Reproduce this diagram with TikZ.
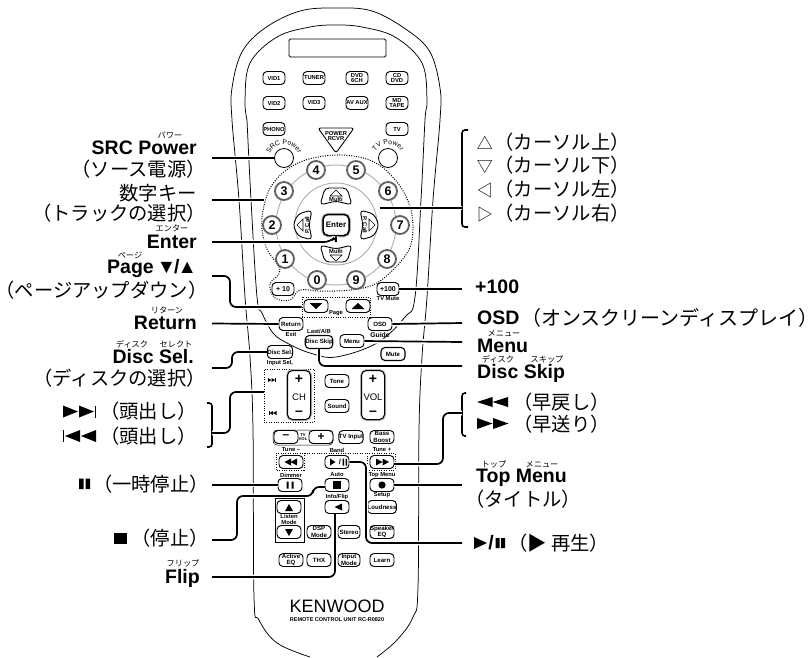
\documentclass[tikz,border=0pt]{standalone}
\usepackage{fontspec}
\setmainfont{Liberation Sans}
\newfontfamily\jp{Noto Sans CJK JP}
\newfontfamily\jphalt[RawFeature=+halt]{Noto Sans CJK JP}
\usetikzlibrary{decorations.text}

% triangle with its base at (x,y), tip w further along x, height h
\newcommand{\triX}[4]{\fill (#1,#2) -- ++(0,{#4}) -- ++({#3},{-(#4)/2}) -- cycle;}
% triangle with its base centred at (x,y), width w, tip h further along y
\newcommand{\triY}[4]{\fill ({#1-(#3)/2},#2) -- ++({#3},0) -- ++({-(#3)/2},{#4}) -- cycle;}
% small outline triangle in a full kana width
\newcommand{\curs}[1]{\makebox[19.3pt]{\fontsize{16}{16}\selectfont #1}}

\begin{document}
\begin{tikzpicture}[
    x=1pt, y=-1pt,
    body/.style={line width=0.75pt, line join=round},
    ring/.style={circle, draw=gray!60, line width=1pt, inner sep=0pt},
    dots/.style={line width=1pt, dash pattern=on 1pt off 1.4pt},
    btn/.style={
        rectangle, draw=black, fill=white, rounded corners=4pt, line width=0.95pt,
        minimum width=22pt, minimum height=13pt, inner sep=0pt, align=center,
        font=\fontsize{5.8}{5.9}\selectfont\bfseries},
    bigbtn/.style={btn, minimum width=24pt, font=\fontsize{6.1}{6.3}\selectfont\bfseries},
    numkey/.style={
        circle, draw=gray!75!black, fill=white, line width=1.8pt,
        minimum size=18pt, inner sep=0pt, font=\fontsize{12.5}{12.5}\selectfont\bfseries},
    powkey/.style={circle, draw=black, fill=white, line width=0.8pt, minimum size=19pt, inner sep=0pt},
    rocker/.style={
        rectangle, draw=black, line width=1pt, rounded corners=5pt, fill=white,
        preaction={draw=gray!60, line width=3pt},
        minimum width=23pt, minimum height=49pt, inner sep=0pt},
    keytext/.style={inner sep=0pt, align=center, font=\fontsize{5.8}{5.9}\selectfont\bfseries},
    heading/.style={inner sep=0pt, font=\fontsize{19.5}{20}\selectfont\bfseries},
    kana/.style={inner sep=0pt, font=\jp\fontsize{19.3}{20}\selectfont},
    ruby/.style={inner sep=0pt, font=\jp\fontsize{8.2}{9}\selectfont},
    leader/.style={
        line width=1.7pt, rounded corners=6pt,
        preaction={draw=white, line width=4.8pt}},
    brace/.style={line width=1.6pt, rounded corners=3pt}
]
\useasboundingbox (0,0) rectangle (810,657);

%% ── Remote body ─────────────────────────────────────────────────
\draw[body] plot[smooth, tension=0.6] coordinates {
    (310,657) (277,643) (259,620) (254,597) (253,430) (250,357) (245,297) (239,200)
    (232,120) (232,88) (242,52) (265,28) (300,11) (336,8) (372,11) (407,30)
    (430,52) (440,88) (440,120) (433,200) (427,297) (422,357) (419,430) (418,587)
    (413,617) (397,640) (377,657)};
\draw[body] plot[smooth, tension=0.6] coordinates {
    (247,120) (245,100) (250,63) (277,37) (310,27) (336,25) (362,27) (395,37)
    (422,63) (427,100) (425,120) (421,200) (415,297) (405,317) (377,343) (336,357)
    (310,353) (287,343) (273,333) (262,313) (257,297) (251,200) (247,120)};
\draw[body, rounded corners=1.5pt] (289,39) rectangle (386,57);

%% ── Source buttons ──────────────────────────────────────────────
\node[btn] (vid1)  at (274,78) {VID1};
\node[btn] (tuner) at (314,78) {TUNER};
\node[btn] (dvd)   at (357,78) {DVD\\6CH};
\node[btn] (cd)    at (397,78) {CD\\DVD};
\node[btn] (vid2)  at (274,103) {VID2};
\node[btn] (vid3)  at (314,103) {VID3};
\node[btn] (avaux) at (357,103) {AV AUX};
\node[btn] (md)    at (397,103) {MD\\TAPE};
\node[btn] (phono) at (274,129) {PHONO};
\node[btn] (tv)    at (397,129) {TV};

%% ── Power keys ──────────────────────────────────────────────────
\draw[line width=0.9pt, rounded corners=2.5pt] (318,128) -- (354,128) -- (336,153) -- cycle;
\node[keytext] (rcvr) at (336,136) {POWER\\RCVR};
\node[powkey] (srcpow) at (284,158) {};
\node[powkey] (tvpow)  at (388,158) {};
\path[decorate, decoration={text along path, text align=center,
    text={|\fontsize{6.8}{7}\selectfont|SRC Power}}]
    (269,158) .. controls (271,140) and (297,140) .. (299,158);
\path[decorate, decoration={text along path, text align=center,
    text={|\fontsize{6.8}{7}\selectfont|TV Power}}]
    (373,158) .. controls (375,140) and (401,140) .. (403,158);

%% ── Number pad ──────────────────────────────────────────────────
\node[ring, minimum size=120pt] (padring) at (336,225) {};
\node[ring, minimum size=82pt]  (curring) at (336,224) {};
\draw[dots] plot[smooth cycle, tension=0.6] coordinates {
    (336,155) (372,161) (397,182) (411,210) (412,240) (402,260) (377,283) (350,290)
    (320,291) (300,290) (290,300) (275,298) (270,284) (280,270) (266,247) (262,218)
    (272,185) (298,163)};
\node[numkey] (n4) at (316,170) {4};
\node[numkey] (n5) at (356,170) {5};
\node[numkey] (n3) at (284,191) {3};
\node[numkey] (n6) at (388,191) {6};
\node[numkey] (n2) at (272,225) {2};
\node[numkey] (n7) at (400,225) {7};
\node[numkey] (n1) at (285,259) {1};
\node[numkey] (n8) at (387,259) {8};
\node[numkey] (n0) at (317,280) {0};
\node[numkey] (n9) at (356,280) {9};
\node[btn, font=\fontsize{7}{7}\selectfont\bfseries] (plus10)  at (283,289) {+ 10};
\node[btn, font=\fontsize{7}{7}\selectfont\bfseries] (plus100) at (388,289) {+100};
\node[keytext] (tvmute)  at (388,299) {TV Mute};

%% ── Cursor keys ─────────────────────────────────────────────────
\draw[body, fill=white, line width=0.9pt, rounded corners=4pt]
    (320,205) -- (325,188) -- (347,188) -- (352,205) -- (336,201) -- cycle;
\draw[body, fill=white, line width=0.9pt, rounded corners=4pt]
    (320,245) -- (336,249) -- (352,245) -- (347,262) -- (325,262) -- cycle;
\draw[body, fill=white, line width=0.9pt, rounded corners=4pt]
    (312,210) -- (298,214) -- (293,225) -- (298,236) -- (312,240) -- (309,225) -- cycle;
\draw[body, fill=white, line width=0.9pt, rounded corners=4pt]
    (360,210) -- (374,214) -- (379,225) -- (374,236) -- (360,240) -- (363,225) -- cycle;
\draw[line width=0.6pt] (330,196) -- (342,196) -- (336,190) -- cycle;
\draw[line width=0.6pt] (330,255) -- (342,255) -- (336,261) -- cycle;
\draw[line width=0.6pt] (303,219) -- (303,231) -- (297,225) -- cycle;
\draw[line width=0.6pt] (369,219) -- (369,231) -- (375,225) -- cycle;
\node[keytext] (multiup) at (336,199) {Multi};
\node[keytext] (multidn) at (336,251) {Multi};
\node[keytext, rotate=90]  (pcallL) at (307,225) {P. Call};
\node[keytext, rotate=-90] (pcallR) at (365,225) {P. Call};
\node[btn, line width=1.5pt, minimum width=26pt, minimum height=21pt, rounded corners=5pt,
    preaction={draw=gray!60, line width=3.5pt},
    font=\fontsize{8}{8}\selectfont\bfseries] (enter) at (336,225) {Enter};

%% ── Page and menu keys ──────────────────────────────────────────
\node[draw, dots, minimum width=68pt, minimum height=20pt, inner sep=0pt] (pagebox) at (336,307) {};
\node[bigbtn] (pagedn) at (316,306) {};
\node[bigbtn] (pageup) at (358,306) {};
\triY{316}{303}{13}{6}
\triY{358}{309}{13}{-6}
\node[keytext, fill=white, inner sep=0.5pt] (pagelab) at (336,313) {Page};
\node[bigbtn] (return) at (291,324) {Return};
\node[keytext]    (exit)   at (291,334) {Exit};
\node[bigbtn] (osd)    at (380,324) {OSD};
\node[keytext, font=\fontsize{6.8}{7}\selectfont\bfseries] (guide) at (380,335) {Guide};
\node[keytext]    (lastab) at (319,331) {Last/A/B};
\node[bigbtn, line width=1.1pt] (discskip) at (319,342) {Disc Skip};
\node[bigbtn] (menu)   at (352,341) {Menu};
\node[bigbtn, line width=1.1pt] (mute) at (393,354) {Mute};
\node[bigbtn] (discsel) at (280,352) {Disc Sel.};
\node[keytext]    (inputsel) at (280,363) {Input Sel,};

%% ── Channel and volume ──────────────────────────────────────────
\node[draw, dots, minimum width=50pt, minimum height=53pt, inner sep=0pt] (chbox) at (289,395.5) {};
\node[rocker] (ch)  at (299,395) {};
\node[rocker] (vol) at (373,395) {};
\node[inner sep=0pt, font=\fontsize{14}{14}\selectfont\bfseries] (chplus)  at (299,379) {+};
\node[inner sep=0pt, font=\fontsize{9.5}{9.5}\selectfont]        (chlab)   at (299,397) {CH};
\node[inner sep=0pt, font=\fontsize{14}{14}\selectfont\bfseries] (chminus) at (299,413) {--};
\node[inner sep=0pt, font=\fontsize{14}{14}\selectfont\bfseries] (volplus)  at (373,379) {+};
\node[inner sep=0pt, font=\fontsize{9.5}{9.5}\selectfont]        (vollab)   at (373,397) {VOL};
\node[inner sep=0pt, font=\fontsize{14}{14}\selectfont\bfseries] (volminus) at (373,413) {--};
\triX{268}{378}{3.5}{4} \triX{271.5}{378}{3.5}{4} \fill (275,378) rectangle (275.7,382);
\fill (268.6,411) rectangle (269.3,415); \triX{273}{411}{-3.5}{4} \triX{276.5}{411}{-3.5}{4}
\node[bigbtn] (tone)  at (337,381) {Tone};
\node[bigbtn] (sound) at (337,406) {Sound};

%% ── Transport rows ──────────────────────────────────────────────
\draw[line width=0.5pt, rounded corners=4pt] (273,430) rectangle (333,445);
\node[bigbtn, font=\fontsize{12}{12}\selectfont\bfseries] (tvminus) at (286,437) {--};
\node[bigbtn, font=\fontsize{12}{12}\selectfont\bfseries] (tvplus)  at (321,437) {+};
\node[keytext, font=\fontsize{4.2}{4.2}\selectfont\bfseries] (tvvol) at (303,437) {TV\\VOL};
\node[bigbtn] (tvinput) at (351,437) {TV Input};
\node[bigbtn] (bass)    at (382,437) {Bass\\Boost};
\draw[dots] (276,470) -- (276,453) -- (395,453) -- (395,470) -- (367,470) -- (367,453)
    (304,453) -- (304,470) -- (276,470);
\node[keytext, fill=white, inner xsep=1pt] (tuneminus) at (291,450) {Tune --};
\node[keytext, fill=white, inner xsep=1pt] (band)      at (337,450) {Band};
\node[keytext, fill=white, inner xsep=1pt] (tuneplus)  at (382,450) {Tune +};
\node[bigbtn] (rew)  at (291,462) {};
\node[bigbtn] (play) at (337,462) {};
\node[bigbtn] (ff)   at (382,462) {};
\triX{291}{458.5}{-6.5}{7} \triX{297}{458.5}{-6.5}{7}
\triX{330}{458.5}{5.5}{7}
\node[keytext, font=\fontsize{7.5}{7.5}\selectfont\bfseries] (playbar) at (340,462) {/};
\fill (342.5,458.5) rectangle (344,465.5) (345.5,458.5) rectangle (347,465.5);
\triX{376}{458.5}{6.5}{7} \triX{382.5}{458.5}{6.5}{7}
\node[keytext] (dimmer)  at (291,475) {Dimmer};
\node[keytext] (auto)    at (337,475) {Auto};
\node[keytext] (topcap)  at (382,475) {Top Menu};
\node[bigbtn] (pause)  at (290,485) {};
\node[bigbtn] (stop)   at (337,485) {};
\node[bigbtn] (topmenu) at (382,485) {};
\fill (286.5,481.5) rectangle (288.5,488.5) (291.5,481.5) rectangle (293.5,488.5);
\fill (333,481) rectangle (341,489);
\fill (382,485) circle [radius=3.6pt];
\node[keytext] (setup)   at (382,495) {Setup};
\node[keytext] (infoflip) at (337,497) {Info/Flip};
\node[bigbtn] (flipkey)  at (337,507) {};
\triX{342}{503.5}{-7.5}{7}
\node[bigbtn] (loudness) at (382,507) {Loudness};
\node[bigbtn] (dsp)     at (319,532) {DSP\\Mode};
\node[bigbtn, minimum width=22pt] (stereo) at (349,532) {Stereo};
\node[bigbtn] (speaker) at (382,532) {Speaker\\EQ};
\node[bigbtn] (active)  at (291,560) {Active\\EQ};
\node[bigbtn] (thx)     at (319,560) {THX};
\node[bigbtn, minimum width=22pt] (inputmode) at (349,560) {Input\\Mode};
\node[bigbtn] (learn)   at (382,560) {Learn};

%% ── Maker ───────────────────────────────────────────────────────
\node[inner sep=0pt, font=\fontsize{18}{18}\selectfont] (maker) at (337,606) {KENWOOD};
\node[inner sep=0pt, font=\fontsize{5.5}{6}\selectfont\bfseries] (model) at (337,620) {REMOTE CONTROL UNIT RC-R0820};

%% ── Left labels ─────────────────────────────────────────────────
\node[ruby] (rsrc) at (170,135) {パワー};
\node[heading, anchor=east] (lsrc) at (197,148) {SRC Power};
\node[kana, anchor=east]  (ksrc) at (206,169) {（ソース電源）};
\node[kana, anchor=east]  (lnum) at (197,193) {数字キー};
\node[kana, anchor=east]  (knum) at (206,213) {（トラックの選択）};
\node[ruby] (rent) at (172,228) {エンター};
\node[heading, anchor=east] (lent) at (197,242) {Enter};
\node[ruby] (rpage) at (130,255) {ページ};
\node[heading, anchor=east] (lpage) at (197,268) {Page\kern3pt▼\kern-2pt/\kern-2pt▲};
\node[kana, anchor=east]  (kpage) at (198,290) {{\jphalt（}ページアップダウン{\jphalt）}};
\node[ruby] (rret) at (167,310) {リターン};
\node[heading, anchor=east] (lret) at (197,323) {Return};
\node[ruby] (rdisc) at (132,344) {ディスク};
\node[ruby] (rsel)  at (176,344) {セレクト};
\node[heading, anchor=east] (ldsel) at (194,357) {Disc Sel.};
\node[kana, anchor=east]  (kdsel) at (206,378) {（ディスクの選択）};
\triX{63}{405.5}{15}{12} \triX{79}{405.5}{15}{12} \fill (95,405.5) rectangle (96,417.5);
\fill (63,430) rectangle (64,442); \triX{80}{430}{-15}{12} \triX{96}{430}{-15}{12}
\node[kana, anchor=east] (lnext) at (197,411) {（頭出し）};
\node[kana, anchor=east] (lprev) at (197,436) {（頭出し）};
\fill (79,478.5) rectangle (83.5,489) (85.7,478.5) rectangle (90,489);
\node[kana, anchor=east] (lpause) at (209,484) {（一時停止）};
\fill (114,533) rectangle (127,543.5);
\node[kana, anchor=east] (lstop) at (209,538) {（停止）};
\node[ruby] (rflip) at (183,563) {フリップ};
\node[heading, anchor=east] (lflip) at (200,578) {Flip};

%% ── Right labels ────────────────────────────────────────────────
\node[kana, anchor=west] (lup)    at (475,142) {\curs{△}（カーソル上）};
\node[kana, anchor=west] (ldown)  at (475,165) {\curs{▽}（カーソル下）};
\node[kana, anchor=west] (lleft)  at (475,189) {\curs{◁}（カーソル左）};
\node[kana, anchor=west] (lright) at (475,213) {\curs{▷}（カーソル右）};
\node[heading, anchor=west] (lplus) at (475,287) {+100};
\node[heading, anchor=west] (losd)  at (477,318) {OSD};
\node[kana, anchor=west, font=\jp\fontsize{20}{20}\selectfont] (kosd) at (531,318) {{\jphalt（}オンスクリーンディスプレイ{\jphalt）}};
\node[ruby] (rmenu) at (504,333) {メニュー};
\node[heading, anchor=west] (lmenu) at (477,346) {Menu};
\node[ruby] (rdskip1) at (498,359) {ディスク};
\node[ruby] (rdskip2) at (547,359) {スキップ};
\node[heading, anchor=west] (ldskip) at (477,373) {Disc Skip};
\triX{492.5}{397}{-15.5}{10} \triX{508}{397}{-15.5}{10}
\node[kana, anchor=west] (lrew) at (513,402) {（早戻し）};
\triX{477}{418}{15.5}{11} \triX{493}{418}{15.5}{11}
\node[kana, anchor=west] (lff)  at (513,424) {（早送り）};
\node[ruby] (rtop1) at (494,464) {トップ};
\node[ruby] (rtop2) at (542,464) {メニュー};
\node[heading, anchor=west] (ltop) at (476,478) {Top Menu};
\node[kana, anchor=west]  (ktop) at (465,499) {（タイトル）};
\triX{474}{537}{13}{12}
\node[heading, anchor=center] (lslash) at (491,543) {/};
\fill (495.5,538) rectangle (499.5,548) (501,538) rectangle (505,548);
\node[kana, anchor=west] (lplay) at (508,543) {（▶ 再生）};

%% ── Connector ends ──────────────────────────────────────────────
\coordinate (csrc)   at (212,158);
\coordinate (cnum)   at (212,200);
\coordinate (cent)   at (212,242);
\coordinate (cpage)  at (212,276);
\coordinate (cret)   at (212,323.5);
\coordinate (cdsel)  at (212,368);
\coordinate (cskip)  at (212,433);
\coordinate (cpause) at (212,485);
\coordinate (cstop)  at (212,540);
\coordinate (cflip)  at (212,577);
\coordinate (ccur)   at (462,208);
\coordinate (ccurin) at (380,208);
\coordinate (cplus)  at (462,289);
\coordinate (cosd)   at (462,323);
\coordinate (cmenu)  at (462,342);
\coordinate (cdskip) at (462,366);
\coordinate (cwind)  at (462,413);
\coordinate (ctop)   at (462,485);
\coordinate (cplay)  at (462,543);

%% ── Left connectors ─────────────────────────────────────────────
\draw[leader] (csrc) -- (srcpow.west);
\draw[leader] (cnum) -- (264,200);
\draw[leader] (cent) -- (330,242) -- (336,236) -- (enter.south);
\draw[leader] (cpage) -- (230,276) -- (230,307) -- (pagebox.west);
\draw[leader] (cret) -- (return.west);
\draw[leader] (cdsel) -- (232,368) -- (232,352) -- (discsel.west);
\draw[brace] (207,403) -- (212,403) -- (212,447) -- (207,447);
\draw[leader] (cskip) -- (230,433) -- (230,392) -- (264,392);
\draw[leader] (cpause) -- (pause.west);
\draw[leader] (cstop) -- (237,540) -- (237,496) -- (313,496) -- (313,487) -- (325,487);
\draw[leader] (cflip) -- (335,577) -- (335,514);

%% ── Right connectors ────────────────────────────────────────────
\draw[brace] (468,130) -- (462,130) -- (462,227) -- (468,227);
\draw[leader] (ccur) -- (ccurin);
\draw[leader] (cplus) -- (plus100.east);
\draw[leader] (cosd) -- (osd.east);
\draw[leader] (cmenu) -- (menu.east);
\draw[leader] (cdskip) -- (319,366) -- (discskip.south);
\draw[brace] (466,393) -- (462,393) -- (462,436) -- (466,436);
\draw[leader] (cwind) -- (443,413) -- (443,464) -- (394,464);
\draw[leader] (ctop) -- (topmenu.east);
\draw[leader] (cplay) -- (366,543) -- (366,462) -- (play.east);

%% ── Listen Mode frame ───────────────────────────────────────────
\draw[line width=0.6pt] (275,498) rectangle (304,542);
\node[bigbtn] (listenup) at (289,507) {};
\triY{289}{511}{8}{-7}
\node[keytext] (listen) at (289,519) {Listen\\Mode};
\node[bigbtn] (listendn) at (289,532) {};
\triY{289}{529}{8}{7}

\end{tikzpicture}
\end{document}
